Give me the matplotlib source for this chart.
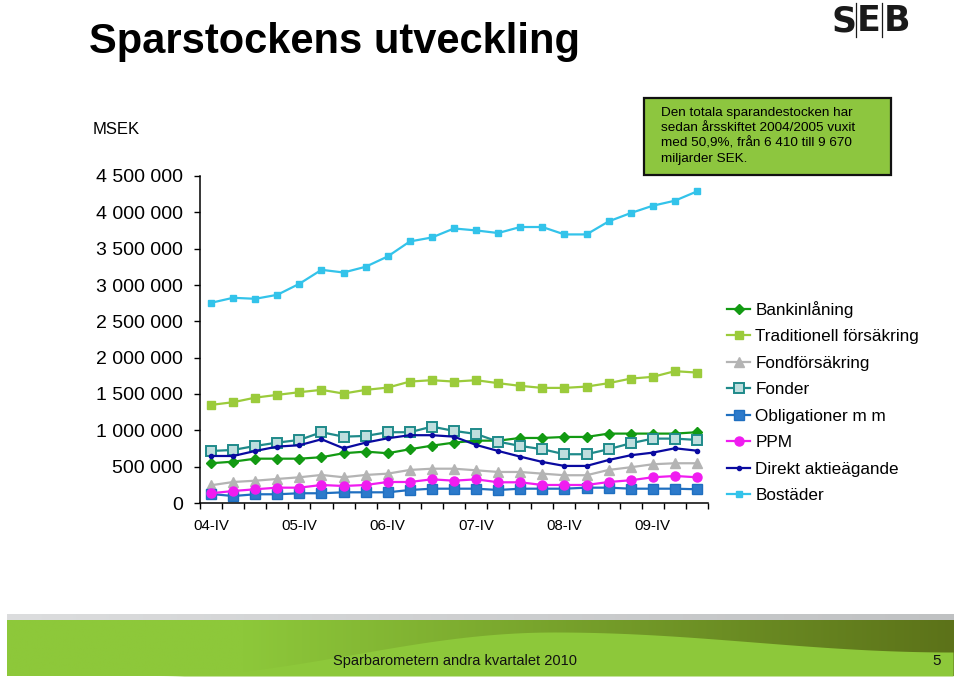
"""Sparstockens utveckling - SEB Sparbarometern, andra kvartalet 2010 (slide 5)."""

import numpy as np
import matplotlib

matplotlib.use("Agg")
import matplotlib.pyplot as plt
from matplotlib.colors import to_rgb
from matplotlib.lines import Line2D
from matplotlib.ticker import FuncFormatter

plt.rcParams["font.family"] = ["Liberation Sans", "DejaVu Sans"]

# kvartal 04-IV .. 10-II
QUARTERS = [
    "04-IV",
    "05-I", "05-II", "05-III", "05-IV",
    "06-I", "06-II", "06-III", "06-IV",
    "07-I", "07-II", "07-III", "07-IV",
    "08-I", "08-II", "08-III", "08-IV",
    "09-I", "09-II", "09-III", "09-IV",
    "10-I", "10-II",
]

# MSEK (tusental)
BANKINLANING = [547, 569, 610, 610, 610, 630, 685, 707, 685, 740, 789, 831,
                858, 858, 895, 895, 909, 909, 955, 955, 955, 955, 974]
TRAD_FORS = [1350, 1387, 1450, 1488, 1525, 1557, 1506, 1557, 1588, 1671, 1690, 1671,
             1690, 1649, 1612, 1584, 1584, 1602, 1649, 1712, 1736, 1814, 1795]
FONDFORS = [244, 289, 307, 331, 354, 386, 354, 386, 404, 455, 472, 472,
            450, 427, 427, 404, 382, 382, 455, 492, 533, 547, 547]
FONDER = [716, 730, 785, 831, 868, 974, 913, 923, 974, 974, 1051, 992,
          950, 844, 785, 740, 671, 671, 740, 822, 886, 886, 868]
OBLIGATIONER = [124, 96, 120, 120, 134, 134, 147, 147, 147, 179, 197, 197,
                197, 179, 197, 197, 197, 211, 211, 197, 197, 197, 189]
PPM = [134, 165, 189, 211, 211, 248, 234, 248, 289, 289, 326, 307,
       326, 285, 285, 248, 248, 248, 289, 313, 354, 372, 354]
DIREKT_AKTIE = [647, 647, 716, 776, 795, 877, 753, 831, 891, 933, 933, 913,
                799, 716, 638, 565, 510, 510, 592, 657, 693, 753, 720]
BOSTADER = [2755, 2824, 2810, 2865, 3017, 3209, 3172, 3251, 3393, 3599, 3654, 3778,
            3751, 3715, 3798, 3798, 3696, 3696, 3875, 3990, 4091, 4160, 4288]

SERIES = [
    ("Bankinlåning", BANKINLANING, dict(color="#129A12", marker="D", ms=5.5)),
    ("Traditionell försäkring", TRAD_FORS, dict(color="#9BCB3B", marker="s", ms=6)),
    ("Fondförsäkring", FONDFORS, dict(color="#B4B4B4", marker="^", ms=6.5)),
    ("Fonder", FONDER, dict(color="#1F8A8A", marker="s", ms=7, mfc="#BFDEDE", mew=1.4)),
    ("Obligationer m m", OBLIGATIONER, dict(color="#1F6FC0", marker="s", ms=6.5, mfc="#2C7ACB")),
    ("PPM", PPM, dict(color="#F01CF0", marker="o", ms=6.5)),
    ("Direkt aktieägande", DIREKT_AKTIE, dict(color="#0A0AA0", marker="o", ms=3)),
    ("Bostäder", BOSTADER, dict(color="#33C3EA", marker="s", ms=4)),
]

NOTE = ("Den totala sparandestocken har\nsedan årsskiftet 2004/2005 vuxit\n"
        "med 50,9%, från 6 410 till 9 670\nmiljarder SEK.")

W, H = 960, 680
fig = plt.figure(figsize=(W / 100, H / 100), dpi=100)
fig.patch.set_facecolor("white")


def fx(px):
    return px / W


def fy(py):
    return 1 - py / H


# --- chart ---
ax = fig.add_axes([fx(200), fy(503), fx(708 - 200), (503 - 176) / H])
x = np.arange(len(QUARTERS))
handles = []
for name, vals, st in SERIES:
    st = dict(st)
    col = st.pop("color")
    st.setdefault("mfc", col)
    (h,) = ax.plot(x, np.array(vals) * 1000, color=col, lw=1.6, mec=col, label=name, **st)
    handles.append(h)

ax.set_xlim(-0.5, len(QUARTERS) - 0.5)
ax.set_ylim(0, 4_500_000)
ax.set_yticks(np.arange(0, 4_500_001, 500_000))
ax.yaxis.set_major_formatter(FuncFormatter(lambda v, _: f"{int(v):,}".replace(",", " ")))
ax.tick_params(axis="y", direction="out", length=4, width=1, pad=8.5, labelsize=14)

ax.set_xticks(np.arange(-0.5, len(QUARTERS), 1.0))
ax.set_xticklabels([])
lab_pos = [i for i, q in enumerate(QUARTERS) if q.endswith("-IV")]
ax.set_xticks(lab_pos, minor=True)
ax.set_xticklabels([QUARTERS[i] for i in lab_pos], minor=True)
ax.tick_params(axis="x", which="major", direction="out", length=4.5, width=1)
ax.tick_params(axis="x", which="minor", length=0, pad=11.5, labelsize=10.8)
for s in ("top", "right"):
    ax.spines[s].set_visible(False)
for s in ("left", "bottom"):
    ax.spines[s].set_linewidth(1.1)

fig.legend(handles=handles, loc="upper left", bbox_to_anchor=(fx(727), fy(301)),
           frameon=False, fontsize=12.3, handlelength=1.35, handletextpad=0.3,
           labelspacing=0.67, borderpad=0, borderaxespad=0)

# --- texts ---
fig.text(fx(89), fy(42), "Sparstockens utveckling", fontsize=30, weight="bold", va="center")
fig.text(fx(93), fy(129), "MSEK", fontsize=12, va="center")
fig.text(fx(661), fy(136), NOTE, fontsize=9.7, va="center", linespacing=1.35)
fig.patches.append(plt.Rectangle((fx(644), fy(175)), fx(891 - 644), (175 - 98) / H,
                                 transform=fig.transFigure, fc="#8DC63F", ec="#111111",
                                 lw=1.6, zorder=0))

# SEB logo
for letter, cx in (("S", 844), ("E", 869), ("B", 897)):
    fig.text(fx(cx), fy(21), letter, fontsize=25, weight="bold", ha="center", va="center",
             color="#1A1A1A", family="DejaVu Sans")
for lx in (856, 882):
    fig.add_artist(Line2D([fx(lx), fx(lx)], [fy(37), fy(3)], color="#1A1A1A", lw=0.9))

# --- footer band ---
fa = fig.add_axes([fx(7), fy(676), fx(946), 62 / H])
fa.set_axis_off()
fa.set_xlim(0, 946)
fa.set_ylim(0, 62)
t = np.linspace(0, 1, 400)
light, dark = np.array(to_rgb("#8DC83A")), np.array(to_rgb("#5C7219"))
ramp = np.clip((t - 0.25) / 0.75, 0, 1)[:, None]
green = light * (1 - ramp) + dark * ramp
fa.imshow(green[None, :, :], extent=(0, 946, 0, 56), aspect="auto", zorder=0)
g1, g2 = np.array(to_rgb("#DCDDDE")), np.array(to_rgb("#BFC1C2"))
gray = g1 * (1 - t[:, None]) + g2 * t[:, None]
fa.imshow(gray[None, :, :], extent=(0, 946, 56, 62), aspect="auto", zorder=0)
xx = np.linspace(0, 946, 400)
wave = np.where(
    xx < 547,
    44 * (1 - np.cos(np.pi * np.clip((xx - 150) / 397, 0, 1))) / 2,
    24 + 20 * (1 + np.cos(np.pi * (xx - 547) / 399)) / 2,
)
fa.fill_between(xx, 0, wave, color="#8DC83A", lw=0, zorder=1)
fig.text(fx(455), fy(661), "Sparbarometern andra kvartalet 2010", fontsize=10.5,
         ha="center", va="center", color="#111111")
fig.text(fx(937), fy(661), "5", fontsize=11, ha="center", va="center", color="#111111")

fig.savefig("out.png", dpi=100)
